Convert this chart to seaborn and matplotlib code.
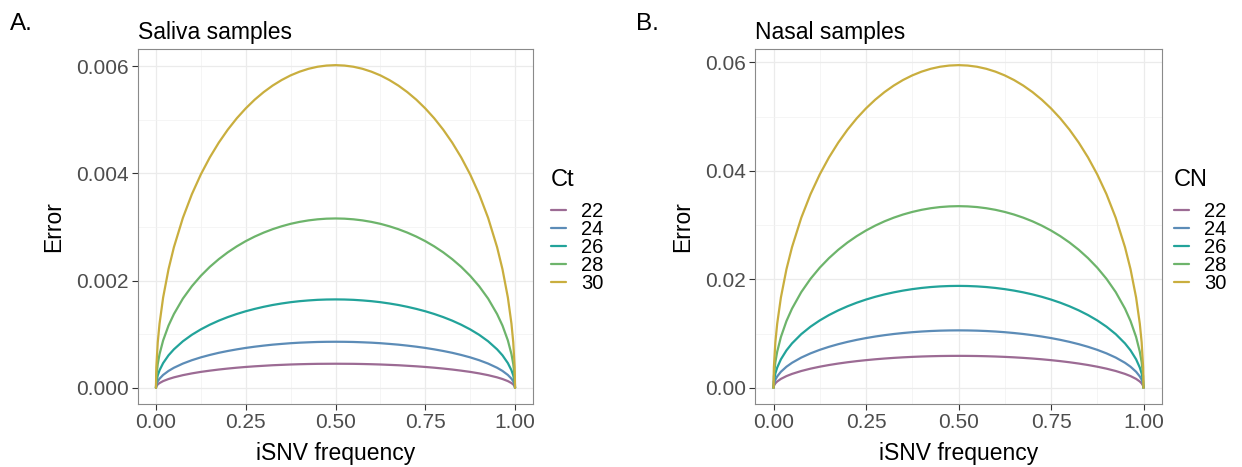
import matplotlib
matplotlib.use("Agg")
import matplotlib.pyplot as plt
from matplotlib.ticker import MultipleLocator
import seaborn as sns
import pandas as pd

# iSNV frequency grid (left half; the curves are symmetric about 0.5)
freq_half = [0, 0.001, 0.005, 0.01, 0.02, 0.035, 0.05, 0.075, 0.1, 0.125, 0.15, 0.175,
             0.2, 0.225, 0.25, 0.275, 0.3, 0.325, 0.35, 0.375, 0.4, 0.425, 0.45, 0.475, 0.5]

levels = ["22", "24", "26", "28", "30"]
palette = ["#9C6B94", "#5C8CB7", "#22A39A", "#6DB46B", "#C9AE3E"]

saliva_22 = [0, 0.0000284, 0.0000635, 0.0000896, 0.000126, 0.000165, 0.000196, 0.000237, 0.00027,
             0.000298, 0.000321, 0.000342, 0.00036, 0.000376, 0.00039, 0.000402, 0.000412,
             0.000422, 0.000429, 0.000436, 0.000441, 0.000445, 0.000448, 0.000449, 0.00045]
saliva_24 = [0, 0.0000544, 0.000121, 0.000171, 0.000241, 0.000316, 0.000375, 0.000453, 0.000516,
             0.000569, 0.000614, 0.000654, 0.000688, 0.000718, 0.000745, 0.000768, 0.000788,
             0.000806, 0.00082, 0.000833, 0.000843, 0.00085, 0.000856, 0.000859, 0.00086]
saliva_26 = [0, 0.000104, 0.000233, 0.000328, 0.000462, 0.000607, 0.000719, 0.000869, 0.00099,
             0.001091, 0.001178, 0.001254, 0.00132, 0.001378, 0.001429, 0.001473, 0.001512,
             0.001546, 0.001574, 0.001598, 0.001617, 0.001631, 0.001642, 0.001648, 0.00165]
saliva_28 = [0, 0.0002, 0.000446, 0.000629, 0.000885, 0.001162, 0.001377, 0.001665, 0.001896,
             0.00209, 0.002257, 0.002401, 0.002528, 0.002639, 0.002737, 0.002822, 0.002896,
             0.00296, 0.003014, 0.00306, 0.003096, 0.003124, 0.003144, 0.003156, 0.00316]
saliva_30 = [0, 0.00038, 0.000849, 0.001198, 0.001686, 0.002213, 0.002624, 0.003171, 0.003612,
             0.003982, 0.004299, 0.004575, 0.004816, 0.005028, 0.005213, 0.005376, 0.005517,
             0.005639, 0.005742, 0.005829, 0.005898, 0.005952, 0.00599, 0.006012, 0.00602]

# Nasal samples (CN)
nasal_22 = [0, 0.000373, 0.000832, 0.001174, 0.001652, 0.002169, 0.002572, 0.003108, 0.00354,
            0.003902, 0.004213, 0.004483, 0.00472, 0.004928, 0.005109, 0.005269, 0.005407,
            0.005527, 0.005628, 0.005712, 0.005781, 0.005833, 0.005871, 0.005892, 0.0059]
nasal_24 = [0, 0.00067, 0.001496, 0.002109, 0.002968, 0.003897, 0.00462, 0.005584, 0.00636,
            0.007011, 0.007569, 0.008055, 0.00848, 0.008853, 0.00918, 0.009466, 0.009715,
            0.009929, 0.010111, 0.010263, 0.010386, 0.01048, 0.010547, 0.010586, 0.0106]
nasal_26 = [0, 0.001188, 0.002653, 0.003741, 0.005264, 0.006911, 0.008195, 0.009904, 0.01128,
            0.012434, 0.013425, 0.014286, 0.01504, 0.015702, 0.016281, 0.016788, 0.01723,
            0.01761, 0.017933, 0.018202, 0.01842, 0.018588, 0.018706, 0.018776, 0.0188]
nasal_28 = [0, 0.002117, 0.004727, 0.006667, 0.00938, 0.012315, 0.014603, 0.017648, 0.0201,
            0.022157, 0.023922, 0.025457, 0.0268, 0.027979, 0.029011, 0.029916, 0.030703,
            0.031379, 0.031956, 0.032435, 0.032823, 0.033121, 0.033333, 0.033456, 0.0335]
nasal_30 = [0, 0.00376, 0.008395, 0.01184, 0.01666, 0.021872, 0.025936, 0.031345, 0.0357,
            0.039353, 0.042489, 0.045214, 0.0476, 0.049694, 0.051527, 0.053134, 0.054532,
            0.055734, 0.056757, 0.057608, 0.058298, 0.058828, 0.059203, 0.059423, 0.0595]


def long_df(series):
    # mirror the left half onto the right half
    freq = freq_half + [1 - f for f in freq_half[-2::-1]]
    rows = []
    for lvl, half in zip(levels, series):
        vals = half + half[-2::-1]
        for f, v in zip(freq, vals):
            rows.append({"freq": f, "error": v, "level": lvl})
    return pd.DataFrame(rows)


saliva_df = long_df([saliva_22, saliva_24, saliva_26, saliva_28, saliva_30])
nasal_df = long_df([nasal_22, nasal_24, nasal_26, nasal_28, nasal_30])

sns.set_style("white")
plt.rcParams["font.family"] = ["Liberation Sans", "DejaVu Sans"]
plt.rcParams["lines.solid_joinstyle"] = "round"
plt.rcParams["text.color"] = "black"
plt.rcParams["axes.labelcolor"] = "black"

fig = plt.figure(figsize=(12.42, 4.67), dpi=100)
W, H = 1242, 467


def panel(rect_px, df, title, legend_title, ymax, ymajor, yfmt, leg_xy):
    l, t, r, b = rect_px
    ax = fig.add_axes([l / W, 1 - b / H, (r - l) / W, (b - t) / H])
    sns.lineplot(data=df, x="freq", y="error", hue="level", palette=palette,
                 hue_order=levels, ax=ax, linewidth=1.6, sort=False, legend=False)
    ax.set_xlim(-0.05, 1.05)
    pad = ymax * 0.05
    ax.set_ylim(-pad, ymax + pad)
    ax.xaxis.set_major_locator(MultipleLocator(0.25))
    ax.xaxis.set_minor_locator(MultipleLocator(0.125))
    ax.yaxis.set_major_locator(MultipleLocator(ymajor))
    ax.yaxis.set_minor_locator(MultipleLocator(ymajor / 2))
    ax.xaxis.set_major_formatter(lambda v, p: f"{v:.2f}")
    ax.yaxis.set_major_formatter(lambda v, p: yfmt.format(v))
    ax.grid(True, which="major", color="#ebebeb", linewidth=0.9)
    ax.grid(True, which="minor", color="#f2f2f2", linewidth=0.5)
    ax.set_axisbelow(True)
    for s in ax.spines.values():
        s.set_color("#8a8a8a")
        s.set_linewidth(0.8)
    ax.tick_params(which="major", length=4, width=0.8, color="#333333",
                   labelsize=15, labelcolor="#4d4d4d", direction="out",
                   left=True, bottom=True, pad=2.5)
    ax.tick_params(which="minor", length=0)
    ax.set_xlabel("iSNV frequency", fontsize=16.5, labelpad=7, color="black")
    ax.set_ylabel("Error", fontsize=16.5, labelpad=8, color="black")
    ax.set_title(title, fontsize=16.5, loc="left", pad=7, color="black")

    handles = [plt.Line2D([], [], color=c, linewidth=1.6) for c in palette]
    leg = fig.legend(handles, levels, title=legend_title, frameon=False,
                     loc="upper left", bbox_to_anchor=(leg_xy[0] / W, 1 - leg_xy[1] / H),
                     fontsize=14.5, title_fontsize=17, handlelength=0.75,
                     handletextpad=0.75, labelspacing=-0.05, borderpad=0,
                     borderaxespad=0)
    leg._legend_box.align = "left"
    leg._legend_box.sep = 8
    for txt in leg.get_texts():
        txt.set_color("black")
    leg.get_title().set_color("black")
    return ax


panel((138, 49, 533, 404), saliva_df, "Saliva samples", "Ct", 0.00602, 0.002, "{:.3f}", (551, 169))
panel((755, 49, 1162, 404), nasal_df, "Nasal samples", "CN", 0.0595, 0.02, "{:.2f}", (1174, 169))

fig.text(10 / W, 1 - 30 / H, "A.", fontsize=17.5, color="black")
fig.text(636 / W, 1 - 30 / H, "B.", fontsize=17.5, color="black")

fig.savefig("out.png", dpi=100)
